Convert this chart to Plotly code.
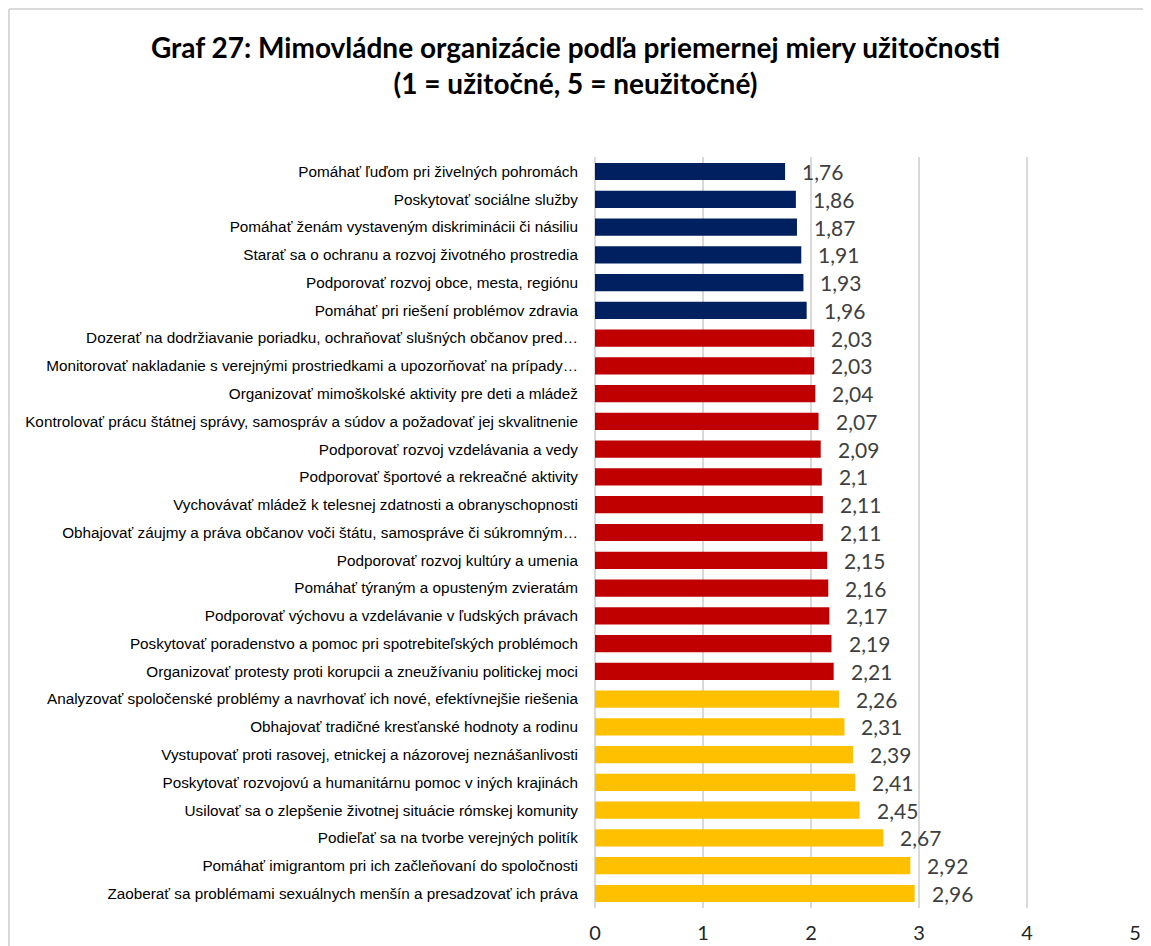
import plotly.graph_objects as go

# categories, top to bottom
labels = [
    "Pomáhať ľuďom pri živelných pohromách",
    "Poskytovať sociálne služby",
    "Pomáhať ženám vystaveným diskriminácii či násiliu",
    "Starať sa o ochranu a rozvoj životného prostredia",
    "Podporovať rozvoj obce, mesta, regiónu",
    "Pomáhať pri riešení problémov zdravia",
    "Dozerať na dodržiavanie poriadku, ochraňovať slušných občanov pred…",
    "Monitorovať nakladanie s verejnými prostriedkami a upozorňovať na prípady…",
    "Organizovať mimoškolské aktivity pre deti a mládež",
    "Kontrolovať prácu štátnej správy, samospráv a súdov a požadovať jej skvalitnenie",
    "Podporovať rozvoj vzdelávania a vedy",
    "Podporovať športové a rekreačné aktivity",
    "Vychovávať mládež k telesnej zdatnosti a obranyschopnosti",
    "Obhajovať záujmy a práva občanov voči štátu, samospráve či súkromným…",
    "Podporovať rozvoj kultúry a umenia",
    "Pomáhať týraným a opusteným zvieratám",
    "Podporovať výchovu a vzdelávanie v ľudských právach",
    "Poskytovať poradenstvo a pomoc pri spotrebiteľských problémoch",
    "Organizovať protesty proti korupcii a zneužívaniu politickej moci",
    "Analyzovať spoločenské problémy a navrhovať ich nové, efektívnejšie riešenia",
    "Obhajovať tradičné kresťanské hodnoty a rodinu",
    "Vystupovať proti rasovej, etnickej a názorovej neznášanlivosti",
    "Poskytovať rozvojovú a humanitárnu pomoc v iných krajinách",
    "Usilovať sa o zlepšenie životnej situácie rómskej komunity",
    "Podieľať sa na tvorbe verejných politík",
    "Pomáhať imigrantom pri ich začleňovaní do spoločnosti",
    "Zaoberať sa problémami sexuálnych menšín a presadzovať ich práva",
]
values = [1.76, 1.86, 1.87, 1.91, 1.93, 1.96, 2.03, 2.03, 2.04, 2.07, 2.09, 2.1, 2.11,
          2.11, 2.15, 2.16, 2.17, 2.19, 2.21, 2.26, 2.31, 2.39, 2.41, 2.45, 2.67, 2.92, 2.96]
groups = ["navy"] * 6 + ["red"] * 13 + ["gold"] * 8
group_colors = {"navy": "#002060", "red": "#C00000", "gold": "#FFC000"}

bar_colors = [group_colors[g] for g in groups]
value_text = [f"{v:g}".replace(".", ",") for v in values]

fig = go.Figure(go.Bar(
    x=values, y=labels, orientation="h",
    marker=dict(color=bar_colors, line=dict(width=0)),
    width=0.62,
    hoverinfo="x+y",
))

# value labels to the right of each bar
for v, lab, t in zip(values, labels, value_text):
    fig.add_annotation(x=v, y=lab, text=t, showarrow=False, xanchor="left",
                       xshift=15, font=dict(family="Lato, Carlito, sans-serif", size=21, color="#404040"))

# page body has an 8px margin, so everything sits 8px right/down of figure coords
W, H = 1151, 946
L, R, T, B = 587, 24, 149, 46
pw, ph = W - L - R, H - T - B
px = lambda p: (p - L) / pw
py = lambda p: (H - B - p) / ph

# chart border (left & top visible)
fig.add_shape(type="line", xref="paper", yref="paper", x0=px(1), x1=px(W + 5), y0=py(1), y1=py(1),
              line=dict(color="#D9D9D9", width=2))
fig.add_shape(type="line", xref="paper", yref="paper", x0=px(1), x1=px(1), y0=py(1), y1=py(H + 5),
              line=dict(color="#D9D9D9", width=2))

fig.update_layout(
    width=W, height=H,
    margin=dict(l=L, r=R, t=T, b=B),
    paper_bgcolor="white", plot_bgcolor="white",
    showlegend=False,
    title=dict(
        text="<b>Graf 27: Mimovládne organizácie podľa priemernej miery užitočnosti<br>(1 = užitočné, 5 = neužitočné)</b>",
        x=(W - 16) / 2 / W, xref="container", xanchor="center",
        y=1 - 50 / H, yref="container", yanchor="top",
        font=dict(family="Lato, Carlito, sans-serif", size=28, color="#000000"),
    ),
    xaxis=dict(
        range=[0, 5], dtick=1, showgrid=True, gridcolor="#D9D9D9", gridwidth=2,
        zeroline=True, zerolinecolor="#D9D9D9", zerolinewidth=2,
        showline=False, ticks="", automargin=False,
        tickfont=dict(family="Lato, Carlito, sans-serif", size=20, color="#262626"),
        ticklabelstandoff=11,
    ),
    yaxis=dict(
        autorange="reversed", showgrid=False, ticks="", showline=False, automargin=False,
        tickfont=dict(family="Liberation Sans, Arial, sans-serif", size=15.3, color="#000000"),
        ticklabelstandoff=16,
    ),
)

fig.write_html("out.html")
